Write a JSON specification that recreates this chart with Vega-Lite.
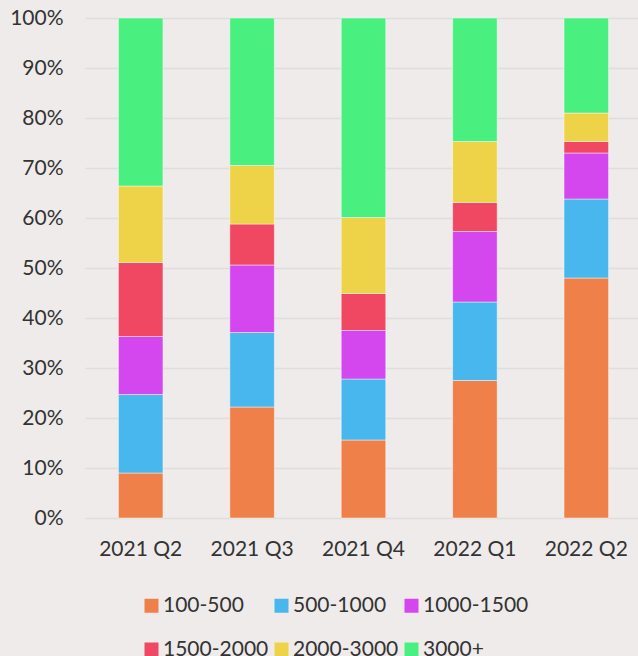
{
  "$schema": "https://vega.github.io/schema/vega-lite/v6.json",
  "width": 557,
  "height": 500,
  "autosize": "none",
  "padding": {"left": 85, "top": 18, "right": 0, "bottom": 138},
  "background": "#EEEBEA",
  "config": {
    "view": {"stroke": null},
    "font": "Lato"
  },
  "data": {
    "values": [
      {"quarter": "2021 Q2", "range": "100-500", "rank": 1, "share": 9.0},
      {"quarter": "2021 Q2", "range": "500-1000", "rank": 2, "share": 15.7},
      {"quarter": "2021 Q2", "range": "1000-1500", "rank": 3, "share": 11.6},
      {"quarter": "2021 Q2", "range": "1500-2000", "rank": 4, "share": 14.8},
      {"quarter": "2021 Q2", "range": "2000-3000", "rank": 5, "share": 15.3},
      {"quarter": "2021 Q2", "range": "3000+", "rank": 6, "share": 33.6},
      {"quarter": "2021 Q3", "range": "100-500", "rank": 1, "share": 22.2},
      {"quarter": "2021 Q3", "range": "500-1000", "rank": 2, "share": 14.9},
      {"quarter": "2021 Q3", "range": "1000-1500", "rank": 3, "share": 13.5},
      {"quarter": "2021 Q3", "range": "1500-2000", "rank": 4, "share": 8.2},
      {"quarter": "2021 Q3", "range": "2000-3000", "rank": 5, "share": 11.7},
      {"quarter": "2021 Q3", "range": "3000+", "rank": 6, "share": 29.5},
      {"quarter": "2021 Q4", "range": "100-500", "rank": 1, "share": 15.6},
      {"quarter": "2021 Q4", "range": "500-1000", "rank": 2, "share": 12.2},
      {"quarter": "2021 Q4", "range": "1000-1500", "rank": 3, "share": 9.7},
      {"quarter": "2021 Q4", "range": "1500-2000", "rank": 4, "share": 7.4},
      {"quarter": "2021 Q4", "range": "2000-3000", "rank": 5, "share": 15.2},
      {"quarter": "2021 Q4", "range": "3000+", "rank": 6, "share": 39.9},
      {"quarter": "2022 Q1", "range": "100-500", "rank": 1, "share": 27.5},
      {"quarter": "2022 Q1", "range": "500-1000", "rank": 2, "share": 15.7},
      {"quarter": "2022 Q1", "range": "1000-1500", "rank": 3, "share": 14.1},
      {"quarter": "2022 Q1", "range": "1500-2000", "rank": 4, "share": 5.8},
      {"quarter": "2022 Q1", "range": "2000-3000", "rank": 5, "share": 12.2},
      {"quarter": "2022 Q1", "range": "3000+", "rank": 6, "share": 24.7},
      {"quarter": "2022 Q2", "range": "100-500", "rank": 1, "share": 48.0},
      {"quarter": "2022 Q2", "range": "500-1000", "rank": 2, "share": 15.8},
      {"quarter": "2022 Q2", "range": "1000-1500", "rank": 3, "share": 9.2},
      {"quarter": "2022 Q2", "range": "1500-2000", "rank": 4, "share": 2.3},
      {"quarter": "2022 Q2", "range": "2000-3000", "rank": 5, "share": 5.7},
      {"quarter": "2022 Q2", "range": "3000+", "rank": 6, "share": 19.0}
    ]
  },
  "mark": {"type": "bar", "stroke": "#ffffff", "strokeOpacity": 0.45, "strokeWidth": 1},
  "encoding": {
    "x": {
      "field": "quarter",
      "type": "nominal",
      "sort": null,
      "scale": {"paddingInner": 0.6, "paddingOuter": 0.3},
      "axis": {
        "title": null,
        "labelAngle": 0,
        "labelFontSize": 21,
        "labelColor": "#333333",
        "labelPadding": 20,
        "ticks": false,
        "domain": false
      }
    },
    "y": {
      "field": "share",
      "type": "quantitative",
      "stack": "normalize",
      "scale": {"domain": [0, 1]},
      "axis": {
        "title": null,
        "format": ".0%",
        "values": [0, 0.1, 0.2, 0.3, 0.4, 0.5, 0.6, 0.7, 0.8, 0.9, 1],
        "labelFontSize": 21,
        "labelColor": "#333333",
        "labelPadding": 22,
        "ticks": false,
        "domain": false,
        "grid": true,
        "gridColor": "#E0DEDC",
        "gridWidth": 1.5
      }
    },
    "order": {"field": "rank", "type": "quantitative", "sort": "ascending"},
    "color": {
      "field": "range",
      "type": "nominal",
      "sort": ["100-500", "500-1000", "1000-1500", "1500-2000", "2000-3000", "3000+"],
      "scale": {
        "domain": ["100-500", "500-1000", "1000-1500", "1500-2000", "2000-3000", "3000+"],
        "range": ["#F0804A", "#47B7ED", "#D446EE", "#F04862", "#EED348", "#4AF07F"]
      },
      "legend": {
        "title": null,
        "orient": "none",
        "legendX": 56,
        "legendY": 577,
        "direction": "horizontal",
        "columns": 3,
        "symbolType": "square",
        "symbolSize": 196,
        "symbolStrokeWidth": 0,
        "labelFontSize": 21,
        "labelColor": "#333333",
        "labelOffset": 1,
        "columnPadding": 2,
        "rowPadding": 22,
        "padding": 0
      }
    }
  }
}
